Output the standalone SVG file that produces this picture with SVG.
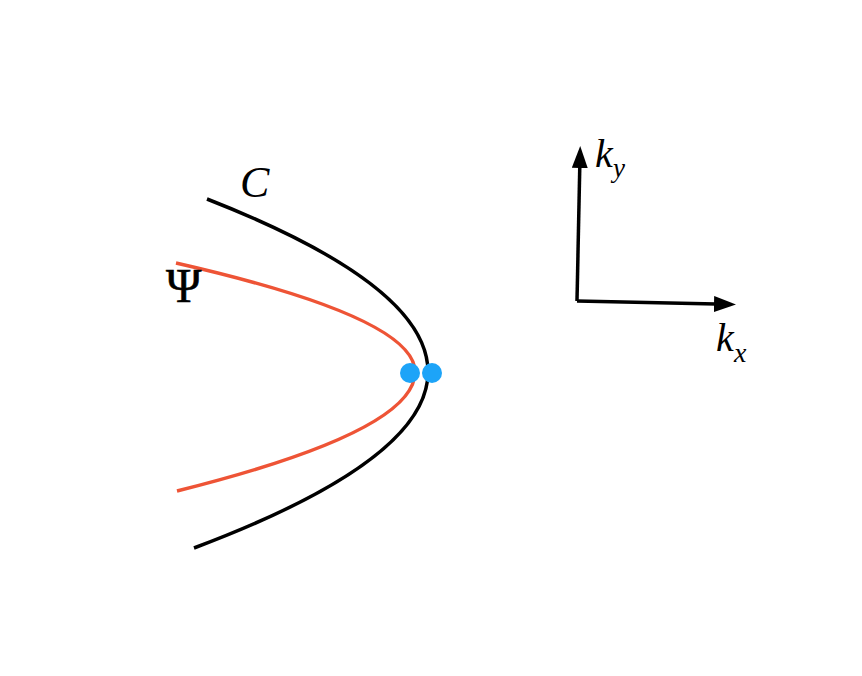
<svg xmlns="http://www.w3.org/2000/svg" width="862" height="676" viewBox="0 0 862 676">
<style>
.curve{fill:none;stroke-width:3.5;stroke-linecap:butt}
.axis{fill:none;stroke:#000;stroke-width:3.5}
.lbl{font-family:"Liberation Serif","Times New Roman",serif;fill:#000}
.it{font-style:italic}
.dot{fill:#1DA4F8}
</style>
<defs>
<marker id="arr" markerUnits="userSpaceOnUse" markerWidth="24" markerHeight="20" refX="2" refY="8" orient="auto">
<path d="M0,0 L22,8 L0,16 Z" fill="#000"/>
</marker>
</defs>
<rect width="862" height="676" fill="#fff"/>
<g id="curves">
<g id="curve-C"><path class="curve" stroke="#000" d="M207,199 Q428,285.5 428,372 Q428,460 194,548"/></g>
<g id="curve-Psi"><path class="curve" stroke="#EE5436" d="M176,263 Q415,317.5 415,372 Q415,431.5 177,491"/></g>
</g>
<g id="dots">
<circle class="dot" cx="410" cy="373" r="10"/>
<circle class="dot" cx="432" cy="373" r="10"/>
</g>
<g id="axes">
<path class="axis" d="M577,301 L579.8,166" marker-end="url(#arr)"/>
<path class="axis" d="M577,301 L716,304" marker-end="url(#arr)"/>
</g>
<g id="labels">
<text class="lbl it" x="240" y="197" font-size="44">C</text>
<text class="lbl" x="166" y="302" font-size="48" stroke="#000" stroke-width="0.6">Ψ</text>
<text class="lbl it" x="595" y="167" font-size="40">k</text>
<text class="lbl it" x="613" y="177" font-size="27">y</text>
<text class="lbl it" x="716" y="351" font-size="40">k</text>
<text class="lbl it" x="734" y="362" font-size="28">x</text>
</g>
</svg>
